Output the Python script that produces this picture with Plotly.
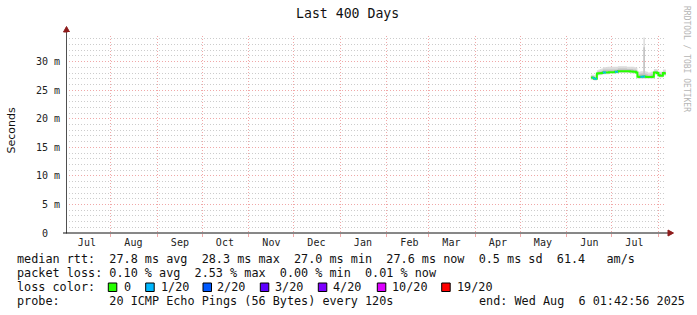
import plotly.graph_objects as go

# ---------------- data ----------------
dates = [
    "2025-06-17", "2025-06-18", "2025-06-19", "2025-06-20", "2025-06-21", "2025-06-22", "2025-06-23",
    "2025-06-24", "2025-06-25", "2025-06-26", "2025-06-27", "2025-06-28", "2025-06-29", "2025-06-30",
    "2025-07-01", "2025-07-02", "2025-07-03", "2025-07-04", "2025-07-05", "2025-07-06", "2025-07-07",
    "2025-07-08", "2025-07-09", "2025-07-10", "2025-07-11", "2025-07-12", "2025-07-13", "2025-07-14",
    "2025-07-15", "2025-07-16", "2025-07-17", "2025-07-18", "2025-07-19", "2025-07-20", "2025-07-21",
    "2025-07-22", "2025-07-23", "2025-07-24", "2025-07-25", "2025-07-26", "2025-07-27", "2025-07-28",
    "2025-07-29", "2025-07-30", "2025-07-31", "2025-08-01", "2025-08-02", "2025-08-03", "2025-08-04",
    "2025-08-05", "2025-08-06",
]
median_ms = [
    27.2, 27.15, 27.0, 27.0, 27.9, 27.95, 27.95,
    28.0, 28.1, 28.1, 28.1, 28.1, 28.15, 28.15,
    28.15, 28.15, 28.2, 28.2, 28.3, 28.3, 28.3,
    28.3, 28.3, 28.3, 28.3, 28.3, 28.25, 28.25,
    28.2, 28.2, 28.1, 27.35, 27.3, 27.35, 27.35,
    27.4, 27.35, 27.3, 27.3, 27.3, 27.3, 27.35,
    28.1, 28.1, 28.0, 27.6, 27.5, 27.5, 28.0,
    27.9, 27.9,
]
loss_count = [
    0, 1, 1, 1, 0, 0, 0,
    0, 1, 1, 0, 0, 0, 0,
    0, 0, 1, 1, 0, 0, 0,
    0, 0, 0, 0, 0, 0, 0,
    0, 0, 0, 0, 0, 1, 1,
    1, 0, 0, 0, 0, 0, 0,
    0, 0, 0, 0, 0, 0, 0,
    0, 0,
]
smoke_max_ms = [
    27.7, 27.7, 27.6, 27.8, 28.5, 28.6, 28.7,
    28.8, 29.0, 29.0, 29.0, 29.1, 29.1, 29.1,
    29.1, 29.1, 29.1, 29.1, 29.2, 29.2, 29.2,
    29.2, 29.2, 29.2, 29.1, 29.1, 29.1, 29.1,
    29.1, 29.0, 28.9, 28.2, 28.2, 28.3, 28.3,
    34.2, 28.3, 28.2, 28.1, 28.1, 28.2, 28.2,
    28.7, 28.7, 28.6, 28.2, 28.2, 28.2, 28.6,
    28.6, 28.6,
]
smoke_min_ms = [
    26.8, 26.8, 26.7, 26.7, 27.5, 27.6, 27.6,
    27.7, 27.8, 27.8, 27.8, 27.8, 27.9, 27.9,
    27.9, 27.9, 27.9, 27.9, 28.0, 28.0, 28.0,
    28.0, 28.0, 28.0, 28.0, 28.0, 27.9, 27.9,
    27.9, 27.9, 27.8, 27.0, 27.0, 27.0, 27.0,
    27.0, 27.0, 27.0, 27.0, 27.0, 27.0, 27.0,
    27.7, 27.7, 27.6, 27.2, 27.2, 27.2, 27.6,
    27.5, 27.5,
]
inner_hi_ms = [
    27.4, 27.4, 27.3, 27.3, 28.2, 28.3, 28.3,
    28.4, 28.6, 28.6, 28.6, 28.6, 28.6, 28.6,
    28.6, 28.6, 28.6, 28.6, 28.8, 28.8, 28.8,
    28.8, 28.8, 28.8, 28.7, 28.7, 28.7, 28.7,
    28.6, 28.6, 28.5, 27.8, 27.8, 27.9, 27.9,
    32.5, 27.9, 27.8, 27.7, 27.7, 27.8, 27.8,
    28.4, 28.4, 28.3, 27.9, 27.9, 27.9, 28.3,
    28.2, 28.2,
]

month_starts = ["2024-08-01", "2024-09-01", "2024-10-01", "2024-11-01", "2024-12-01", "2025-01-01",
                "2025-02-01", "2025-03-01", "2025-04-01", "2025-05-01", "2025-06-01", "2025-07-01",
                "2025-08-01"]
month_label_pos = ["2024-07-16", "2024-08-16", "2024-09-16", "2024-10-16", "2024-11-16", "2024-12-16",
                   "2025-01-16", "2025-02-16", "2025-03-16", "2025-04-16", "2025-05-16", "2025-06-16",
                   "2025-07-16"]
month_labels = ["Jul", "Aug", "Sep", "Oct", "Nov", "Dec", "Jan", "Feb", "Mar", "Apr", "May", "Jun", "Jul"]

y_tick_vals = [0, 5, 10, 15, 20, 25, 30]
y_tick_text = ["0\u00a0\u00a0", "5\u00a0m", "10\u00a0m", "15\u00a0m", "20\u00a0m", "25\u00a0m", "30\u00a0m"]

loss_labels = ["0", "1/20", "2/20", "3/20", "4/20", "10/20", "19/20"]
loss_levels = [0, 1, 2, 3, 4, 10, 19]
loss_colors = ["#26ff00", "#00b8ff", "#0059ff", "#5e00ff", "#7e00ff", "#dd00ff", "#ff0000"]

stats_rtt = ["27.8 ms avg", "28.3 ms max", "27.0 ms min", "27.6 ms now", "0.5 ms sd", "61.4   am/s"]
stats_loss = ["0.10 % avg", "2.53 % max", "0.00 % min", "0.01 % now"]
probe_text = "20 ICMP Echo Pings (56 Bytes) every 120s"
end_text = "end: Wed Aug  6 01:42:56 2025"
title_text = "Last 400 Days"

x_start = "2024-07-02 01:42:56"
x_end = "2025-08-06 01:42:56"

# ---------------- layout helpers ----------------
W, H = 697, 315
L, R, T, B = 66, 31, 33, 82
PW, PH = W - L - R, H - T - B
MONO = "DejaVu Sans Mono"


def px(xp):
    return (xp - L) / PW


def py(yp):
    return (T + PH - yp) / PH


def nb(s):
    return s.replace(" ", "\u00a0")


fig = go.Figure()

# smoke: outer band
fig.add_trace(go.Scatter(x=dates, y=smoke_min_ms, mode="lines", line=dict(width=0, shape="hv"),
                         hoverinfo="skip"))
fig.add_trace(go.Scatter(x=dates, y=smoke_max_ms, mode="lines", line=dict(width=0, shape="hv"),
                         fill="tonexty", fillcolor="#dcdcdc", hoverinfo="skip"))
# smoke: inner band
fig.add_trace(go.Scatter(x=dates, y=median_ms, mode="lines", line=dict(width=0, shape="hv"),
                         hoverinfo="skip"))
fig.add_trace(go.Scatter(x=dates, y=inner_hi_ms, mode="lines", line=dict(width=0, shape="hv"),
                         fill="tonexty", fillcolor="#c2c2c2", hoverinfo="skip"))

# median line (base colour = loss 0)
fig.add_trace(go.Scatter(x=dates, y=median_ms, mode="lines",
                         line=dict(width=2, shape="hv", color=loss_colors[0]), hoverinfo="skip"))
# coloured segments for loss levels
for lvl, col in zip(loss_levels[1:], loss_colors[1:]):
    xs, ys = [], []
    for i in range(len(dates) - 1):
        if loss_count[i] == lvl:
            xs += [dates[i], dates[i + 1], None]
            ys += [median_ms[i], median_ms[i], None]
    if xs:
        fig.add_trace(go.Scatter(x=xs, y=ys, mode="lines", line=dict(width=2, color=col),
                                 hoverinfo="skip"))

fig.update_layout(
    width=W, height=H, margin=dict(l=L, r=R, t=T, b=B, pad=0),
    plot_bgcolor="white", paper_bgcolor="white", showlegend=False,
    xaxis=dict(
        type="date", range=[x_start, x_end], tickmode="array", tickvals=month_label_pos,
        ticktext=month_labels, showgrid=False, zeroline=False, showline=False, ticks="",
        tickfont=dict(family=MONO, size=10, color="#222222"), ticklabelstandoff=2,
        minor=dict(tickmode="array", tickvals=month_starts, showgrid=True, gridcolor="#f0a8a8",
                   griddash="1px,2px", gridwidth=1, ticks="outside", ticklen=3,
                   tickcolor="#f0a8a8", tickwidth=1),
        fixedrange=True,
    ),
    yaxis=dict(
        range=[0, 35], tickmode="array", tickvals=y_tick_vals, ticktext=y_tick_text,
        showgrid=True, gridcolor="#f0a8a8", griddash="1px,2px", gridwidth=1,
        zeroline=False, showline=False, ticks="", ticklabelstandoff=5,
        tickfont=dict(family=MONO, size=10, color="#222222"),
        minor=dict(tickmode="linear", tick0=0, dtick=1, showgrid=True, gridcolor="#cccccc",
                   griddash="1px,2px", gridwidth=1),
        fixedrange=True,
    ),
)

shapes = []
# y axis line + arrow
shapes.append(dict(type="line", xref="paper", yref="paper", x0=px(66.5), x1=px(66.5),
                   y0=py(233.5), y1=py(31), line=dict(color="#505050", width=1)))
shapes.append(dict(type="path", xref="paper", yref="paper",
                   path=f"M {px(63.5)} {py(32)} L {px(69.5)} {py(32)} L {px(66.5)} {py(26.5)} Z",
                   fillcolor="#8e1c1c", line=dict(color="#8e1c1c", width=1)))
# cover the grid line drawn at the very top edge (35 m)
shapes.append(dict(type="line", xref="paper", yref="paper", x0=px(67.5), x1=px(667),
                   y0=1, y1=1, line=dict(color="#ffffff", width=2)))
# x axis line + arrow
shapes.append(dict(type="line", xref="paper", yref="paper", x0=px(63), x1=px(669),
                   y0=py(233), y1=py(233), line=dict(color="#111111", width=1)))
shapes.append(dict(type="path", xref="paper", yref="paper",
                   path=f"M {px(668)} {py(230)} L {px(668)} {py(236)} L {px(673.5)} {py(233)} Z",
                   fillcolor="#8e1c1c", line=dict(color="#8e1c1c", width=1)))

annotations = []


def add_text(text, xp, yp, size=11.8, anchor="left", color="#111111", family=MONO, angle=0):
    annotations.append(dict(text=nb(text), x=px(xp), y=py(yp), xref="paper", yref="paper",
                            xanchor=anchor, yanchor="middle", showarrow=False, textangle=angle,
                            font=dict(family=family, size=size, color=color), borderpad=0))


# title
add_text(title_text, 347.5, 13.5, size=13.2, anchor="center")
# y axis title
add_text("Seconds", 10.5, 131, size=11, anchor="center", family="DejaVu Sans", angle=-90)
# watermark
add_text("RRDTOOL / TOBI OETIKER", 687, 59, size=8, anchor="center", color="#b5b5b5", angle=90)

# legend rows
row1 = "median rtt:  " + "  ".join(stats_rtt)
row2 = "packet loss: " + "  ".join(stats_loss)
add_text(row1, 15.5, 259)
add_text(row2, 15.5, 273)
add_text("loss color:", 15.5, 287)
add_text("probe:       " + probe_text, 15.5, 301)
add_text(end_text, 477.5, 301)

box_x = [108.3, 145.7, 203, 260.3, 318.3, 377.3, 441.7]
lab_x = [123.3, 160.3, 217, 274.3, 333, 391.7, 456.7]
for bx, lx, lab, col in zip(box_x, lab_x, loss_labels, loss_colors):
    shapes.append(dict(type="rect", xref="paper", yref="paper", x0=px(bx), x1=px(bx + 8.5),
                       y0=py(291.5), y1=py(283), fillcolor=col, line=dict(color="#000000", width=1)))
    add_text(lab, lx - 0.8, 287)

fig.update_layout(shapes=shapes, annotations=annotations)
fig.write_html("out.html")
